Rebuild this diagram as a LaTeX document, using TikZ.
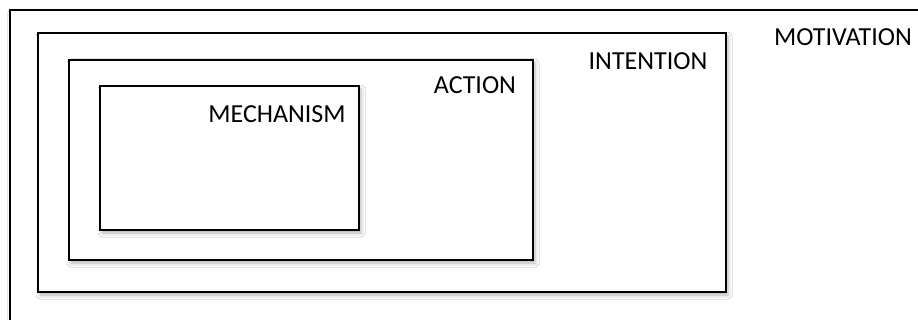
\documentclass[tikz,border=0pt]{standalone}
\usepackage{fontspec}
\setmainfont{Carlito}
\usetikzlibrary{shadows.blur}
\tikzset{
  frame/.style={draw=black, line width=1.8pt, fill=white, inner sep=0pt, outer sep=0pt,
    anchor=north west, rectangle,
    blur shadow={shadow xshift=2pt, shadow yshift=-3pt, shadow blur radius=4pt, shadow opacity=30}},
  lbl/.style={font=\fontsize{26}{31}\selectfont, text=black, inner sep=0pt}
}
\begin{document}
\begin{tikzpicture}[x=1pt,y=-1pt]
\useasboundingbox (0,0) rectangle (918,320);
\fill[white] (0,0) rectangle (918,320);
\clip (0,0) rectangle (918,320);
\node[frame, minimum width=925pt, minimum height=325pt] (motivation) at (10,10) {};
\node[frame, minimum width=688pt, minimum height=259pt] (intention) at (38,33) {};
\node[frame, minimum width=464pt, minimum height=200pt] (action) at (69,60) {};
\node[frame, minimum width=259pt, minimum height=144pt] (mechanism) at (100,86) {};
\node[lbl] (tmot) at (843,37) {MOTIVATION};
\node[lbl] (tint) at (648,61) {INTENTION};
\node[lbl] (tact) at (475,85) {ACTION};
\node[lbl] (tmech) at (277,114) {MECHANISM};
\end{tikzpicture}
\end{document}
